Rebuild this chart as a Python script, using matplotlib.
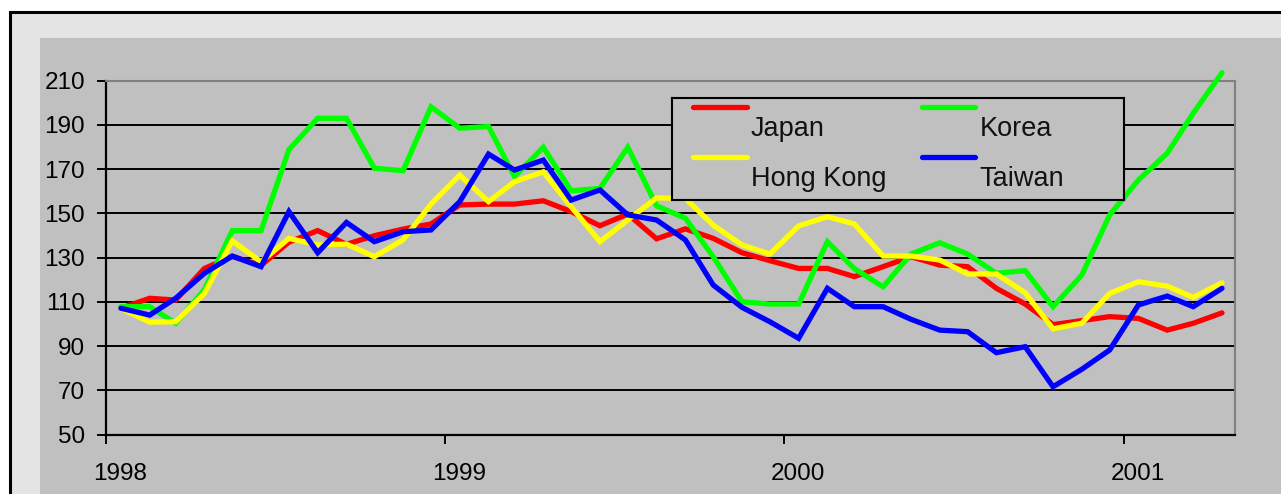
import matplotlib
matplotlib.use("Agg")
import matplotlib.pyplot as plt
import matplotlib.transforms as mtransforms
from matplotlib.patches import Rectangle
import pandas as pd

# ---- data ----
dates = pd.date_range("1998-01-01", periods=40, freq="MS") + pd.Timedelta(days=16)
japan = [107.1, 111.6, 110.8, 125.1, 130.5, 126.5, 137.0, 142.2, 136.0, 139.9,
         142.9, 145.2, 153.8, 154.2, 154.2, 155.7, 150.8, 144.4, 149.7, 138.5,
         143.0, 138.7, 132.2, 128.6, 125.1, 125.1, 121.4, 125.9, 130.4, 126.6,
         125.9, 116.1, 109.0, 99.7, 101.5, 103.3, 102.5, 97.2, 100.3, 105.0]
korea = [107.8, 107.8, 100.3, 115.5, 142.2, 142.2, 178.8, 193.0, 193.0, 170.4,
         169.3, 198.2, 188.5, 189.3, 166.6, 179.9, 160.2, 161.3, 179.9, 153.4,
         147.8, 130.4, 110.0, 109.0, 109.0, 137.2, 125.0, 116.8, 131.6, 136.7,
         131.6, 122.9, 124.1, 107.8, 122.1, 149.3, 165.1, 177.2, 195.3, 213.6]
hong_kong = [107.0, 100.8, 101.0, 113.8, 137.6, 128.1, 138.7, 135.7, 136.1, 130.4,
             138.0, 154.2, 167.3, 155.3, 164.3, 168.8, 153.0, 137.2, 147.0, 157.0,
             156.8, 144.7, 135.7, 131.6, 144.3, 148.5, 145.2, 130.7, 130.7, 128.9,
             122.6, 122.6, 114.1, 97.8, 100.3, 113.8, 119.1, 117.1, 112.0, 118.6]
taiwan = [107.1, 104.0, 111.6, 122.9, 130.7, 125.9, 150.8, 132.2, 145.9, 137.2,
          141.7, 142.5, 155.3, 176.8, 169.6, 174.1, 156.0, 160.6, 149.3, 147.0,
          138.0, 117.6, 107.5, 101.0, 93.5, 116.1, 107.8, 107.8, 102.1, 97.2,
          96.5, 87.0, 89.7, 71.6, 79.5, 88.2, 108.6, 112.6, 107.8, 116.1]
series_names = ["Japan", "Korea", "Hong Kong", "Taiwan"]
series_values = [japan, korea, hong_kong, taiwan]
series_colors = ["#ff0000", "#00ff00", "#ffff00", "#0000ff"]
year_ticks = ["1998", "1999", "2000", "2001"]
y_ticks = list(range(50, 211, 20))

W, H = 1281, 494
fig = plt.figure(figsize=(W / 100, H / 100), dpi=100, facecolor="white")
FONT = "Liberation Sans"

def fx(px):
    return px / W

def fy(py):
    return 1 - py / H

# outer frame and inner plot area backgrounds
fig.patches.append(Rectangle((fx(9.5), fy(560)), fx(1400), (560 - 11.5) / H,
                             transform=fig.transFigure, facecolor="#e4e4e4",
                             edgecolor="black", linewidth=2.2, zorder=-3))
fig.patches.append(Rectangle((fx(40), fy(560)), fx(1400), (560 - 38) / H,
                             transform=fig.transFigure, facecolor="#c0c0c0",
                             edgecolor="none", zorder=-2))

ax_l, ax_r, ax_t, ax_b = 106, 1235, 80.7, 434.5
ax = fig.add_axes([fx(ax_l), fy(ax_b), fx(ax_r - ax_l), (ax_b - ax_t) / H], zorder=1)
ax.set_facecolor("#c0c0c0")

for vals, col in zip(series_values, series_colors):
    ax.plot(dates, vals, color=col, linewidth=3.8, solid_joinstyle="miter",
            solid_capstyle="round", clip_on=False, zorder=3)

ax.set_ylim(50, 210)
ax.set_yticks(y_ticks)
ax.set_xlim(pd.Timestamp("1998-01-01"), pd.Timestamp("2001-05-01"))
ax.set_xticks([pd.Timestamp(f"{y}-01-01") for y in year_ticks])
ax.set_xticklabels(year_ticks)

ax.grid(axis="y", color="black", linewidth=1.4, zorder=1)
ax.set_axisbelow(True)
for s in ["top", "right"]:
    ax.spines[s].set_color("#808080")
    ax.spines[s].set_linewidth(1.5)
for s in ["left", "bottom"]:
    ax.spines[s].set_color("black")
    ax.spines[s].set_linewidth(1.6)

ax.tick_params(axis="y", direction="out", length=6.5, width=1.4, pad=8.5,
               labelsize=17.5, colors="black")
ax.tick_params(axis="x", direction="out", length=6.5, width=1.4, pad=14,
               labelsize=17.5, colors="black")
for lab in ax.get_xticklabels() + ax.get_yticklabels():
    lab.set_family(FONT)
offset = mtransforms.ScaledTranslation(0.14, 0, fig.dpi_scale_trans)
for lab in ax.get_xticklabels():
    lab.set_transform(lab.get_transform() + offset)

# legend box (Excel-style layout)
lg_l, lg_r, lg_t, lg_b = 672.3, 1124.3, 98.3, 200
lax = fig.add_axes([fx(lg_l), fy(lg_b), fx(lg_r - lg_l), (lg_b - lg_t) / H], zorder=5)
lax.set_facecolor("#c0c0c0")
lax.set_xlim(0, lg_r - lg_l)
lax.set_ylim(lg_b - lg_t, 0)
lax.set_xticks([])
lax.set_yticks([])
for s in lax.spines.values():
    s.set_color("black")
    s.set_linewidth(1.5)
cols_x = [(21, 75, 78.7), (250, 303, 307.3)]
rows_y = [(8.7, 37.5), (58.7, 87.5)]
for i, (name, col) in enumerate(zip(series_names, series_colors)):
    r, c = divmod(i, 2)
    x0, x1, tx = cols_x[c]
    ly, ty = rows_y[r]
    lax.plot([x0, x1], [ly, ly], color=col, linewidth=3.8, solid_capstyle="round")
    lax.text(tx, ty, name, fontsize=19.5, family=FONT, va="baseline", ha="left",
             color="#111111")

fig.savefig("out.png", dpi=100, facecolor="white")
